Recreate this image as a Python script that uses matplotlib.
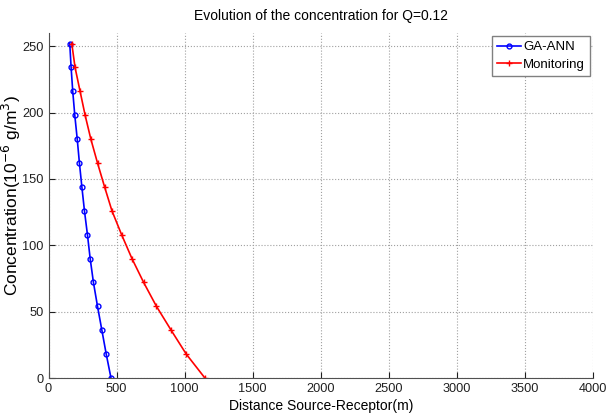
import numpy as np
import matplotlib
matplotlib.use("Agg")
import matplotlib.pyplot as plt

plt.rcParams['font.family'] = ['Liberation Sans', 'DejaVu Sans']

# concentration levels (10^-6 g/m^3)
conc = [252, 234, 216, 198, 180, 162, 144, 126, 108, 90, 72, 54, 36, 18, 0]
# distance source-receptor (m)
dist_ann = [156, 166, 178, 193, 211, 227, 245, 264, 286, 306, 330, 360, 392, 424, 459]
dist_mon = [171, 195, 232, 269, 311, 360, 412, 466, 537, 613, 699, 793, 901, 1012, 1149]

fig = plt.figure(figsize=(6.08, 4.16), dpi=100)
ax = fig.add_axes([0.0798, 0.0913, 0.8955, 0.8294])

ax.plot(dist_ann, conc, color='blue', marker='o', markersize=3.5,
        markerfacecolor='none', markeredgewidth=1, linewidth=1.2, label='GA-ANN')
ax.plot(dist_mon, conc, color='red', marker='+', markersize=5,
        markeredgewidth=1, linewidth=1.2, label='Monitoring')

ax.set_xlim(0, 4000)
ax.set_ylim(0, 260)
ax.set_xticks(np.arange(0, 4001, 500))
ax.set_yticks(np.arange(0, 251, 50))
ax.grid(True, linestyle=':', color='#a0a0a0', linewidth=0.8)
ax.spines['top'].set_visible(False)
ax.spines['right'].set_visible(False)
ax.spines['left'].set_color('#505050')
ax.spines['bottom'].set_color('#505050')
ax.tick_params(labelsize=9.2, direction='in', length=4, colors='#202020')

ax.set_title('Evolution of the concentration for Q=0.12', fontsize=10, pad=9)
ax.set_xlabel('Distance Source-Receptor(m)', fontsize=10, labelpad=3)
ax.set_ylabel('Concentration(10$^{-6}$ g/m$^3$)', fontsize=12.5)
ax.yaxis.set_label_coords(-0.046, 0.53)

leg = ax.legend(loc='upper right', fontsize=9.5, fancybox=False, framealpha=1,
                edgecolor='#808080', handlelength=1.8, borderpad=0.4,
                labelspacing=0.4, handletextpad=0.2, borderaxespad=0.2)

fig.savefig('out.png', dpi=100)
